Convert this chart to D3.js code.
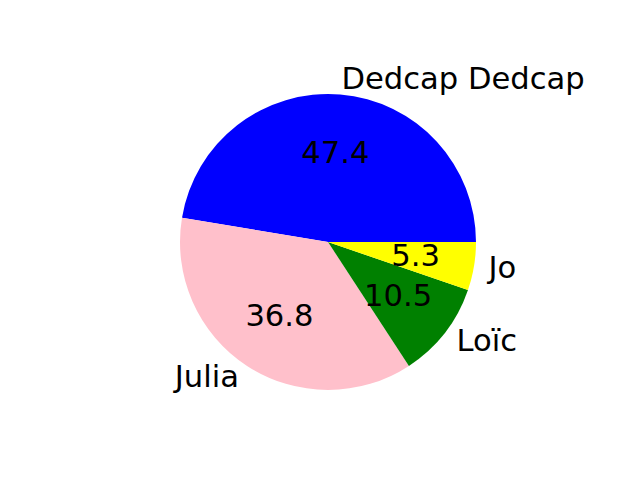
<!DOCTYPE html>
<html><head><meta charset="utf-8">
<script src="https://cdn.jsdelivr.net/npm/d3@7"></script>
<style>body{margin:0;background:#fff}</style>
</head><body>
<svg id="c" width="640" height="480"></svg>
<script>
const labels = ["Dedcap Dedcap", "Julia", "Loïc", "Jo"];
const values = [9, 7, 2, 1];
const colors = ["blue", "pink", "green", "yellow"];

const svg = d3.select("#c");
const cx = 328, cy = 242, r = 148;
const fontSize = 30.6;
const g = svg.append("g").attr("transform", `translate(${cx},${cy})`);
const total = d3.sum(values);

// matplotlib: start at 0 rad (3 o'clock), counterclockwise
const pie = d3.pie().sort(null).value(d => d)
  .startAngle(Math.PI/2).endAngle(Math.PI/2 - 2*Math.PI);
const arcs = pie(values);
const arc = d3.arc().innerRadius(0).outerRadius(r);

g.selectAll("path").data(arcs).enter().append("path")
  .attr("d", arc).attr("fill", (d,i) => colors[i]);

function mid(d){ return (d.startAngle + d.endAngle)/2; }
const off = 9.2;
g.selectAll("text.pct").data(arcs).enter().append("text")
  .attr("class","pct")
  .attr("x", d => Math.sin(mid(d))*r*0.6)
  .attr("y", d => -Math.cos(mid(d))*r*0.6 + off)
  .attr("text-anchor","middle")
  .attr("font-family","DejaVu Sans")
  .attr("font-size", fontSize)
  .attr("fill","black")
  .text(d => (d.value/total*100).toFixed(1));

g.selectAll("text.lbl").data(arcs).enter().append("text")
  .attr("class","lbl")
  .attr("x", d => Math.sin(mid(d))*r*1.1)
  .attr("y", d => -Math.cos(mid(d))*r*1.1 + off)
  .attr("text-anchor", d => Math.sin(mid(d)) >= 0 ? "start" : "end")
  .attr("font-family","DejaVu Sans")
  .attr("font-size", fontSize)
  .attr("fill","black")
  .text((d,i) => labels[i]);
</script>
</body></html>
